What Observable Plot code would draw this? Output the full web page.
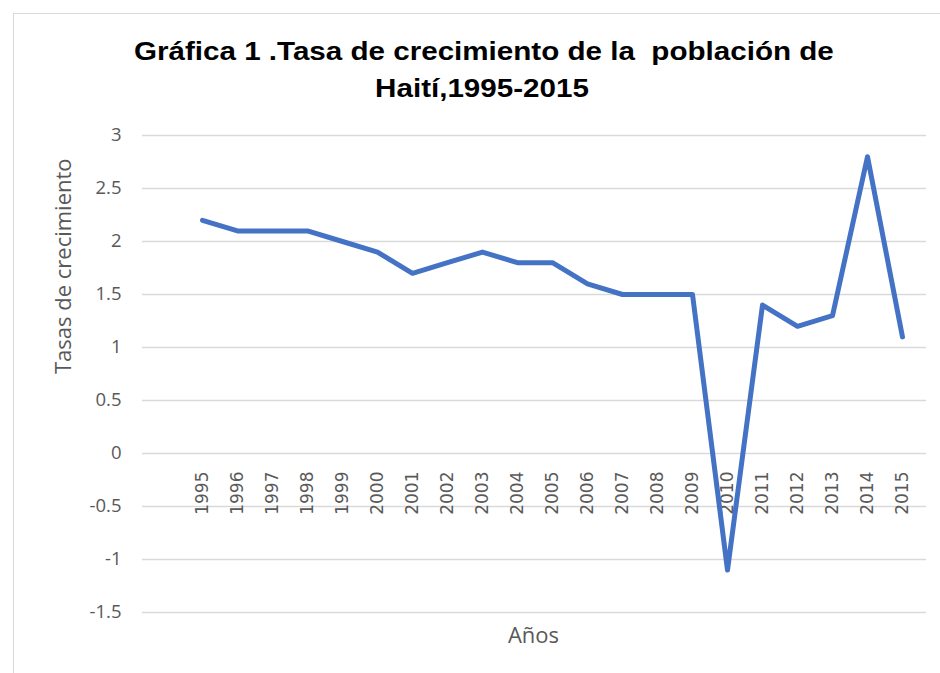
<!DOCTYPE html>
<html><head><meta charset="utf-8">
<script src="https://cdn.jsdelivr.net/npm/d3@7"></script>
<script src="https://cdn.jsdelivr.net/npm/@observablehq/plot@0.6"></script>
<style>
body{margin:0;background:#fff;}
#wrap{position:relative;width:940px;height:673px;overflow:hidden;}
#border{position:absolute;left:13px;top:13px;width:940px;height:700px;border:1px solid #d9d9d9;box-sizing:border-box;}
#title{position:absolute;left:182px;top:33px;width:600px;text-align:center;font-family:"Liberation Sans",Arial,sans-serif;font-weight:bold;font-size:25.5px;line-height:37px;color:#000;white-space:pre;transform:scaleX(1.16);transform-origin:center top;}
#chart{position:absolute;left:0;top:0;}
</style></head>
<body>
<div id="wrap"><div id="border"></div><div id="chart"></div>
<div id="title">Gráfica 1 .Tasa de crecimiento de la  población de
Haití,1995-2015</div></div>
<script>
const years = ["1995","1996","1997","1998","1999","2000","2001","2002","2003","2004","2005","2006","2007","2008","2009","2010","2011","2012","2013","2014","2015"];
const rates = [2.2,2.1,2.1,2.1,2.0,1.9,1.7,1.8,1.9,1.8,1.8,1.6,1.5,1.5,1.5,-1.1,1.4,1.2,1.3,2.8,1.1];
const yTicks = [-1.5,-1,-0.5,0,0.5,1,1.5,2,2.5,3];
const yLabel = "Tasas de crecimiento";
const xLabel = "Años";

const data = years.map((y,i)=>({year:y, rate:rates[i]}));
const font = "'Open Sans', 'Liberation Sans', sans-serif";

const plot = Plot.plot({
  width: 940, height: 673,
  marginTop: 135, marginBottom: 61, marginLeft: 142, marginRight: 14,
  style: {fontFamily: font, fontSize: "18px", color: "#595959", background: "transparent"},
  x: {type: "point", domain: years, range: [197, 907], padding: 0, axis: null},
  y: {domain: [-1.5, 3], axis: null},
  marks: [
    Plot.ruleY(yTicks, {stroke: "#d9d9d9", strokeWidth: 1.4}),
    Plot.axisY({ticks: yTicks, tickSize: 0, tickPadding: 21, label: null, tickFormat: d=>String(d), fontSize: 18.5, fill: "#595959"}),
    Plot.text(years, {x: d=>d, y: ()=>0, rotate: -90, textAnchor: "end", lineAnchor: "middle", dy: 18, fontSize: 17, fontFamily: "'DejaVu Sans', sans-serif", fill: "#595959"}),
    Plot.line(data, {x: "year", y: "rate", stroke: "#4472C4", strokeWidth: 5, strokeLinejoin: "round", strokeLinecap: "round"}),
    Plot.text([yLabel], {frameAnchor: "left", text: d=>d, rotate: -90, dx: -79, fontSize: 22, fill: "#595959"}),
    Plot.text([xLabel], {frameAnchor: "bottom", text: d=>d, dy: 23, dx: -1, lineAnchor: "middle", fontSize: 22, fill: "#595959"})
  ]
});
document.getElementById("chart").appendChild(plot);
</script>
</body></html>
